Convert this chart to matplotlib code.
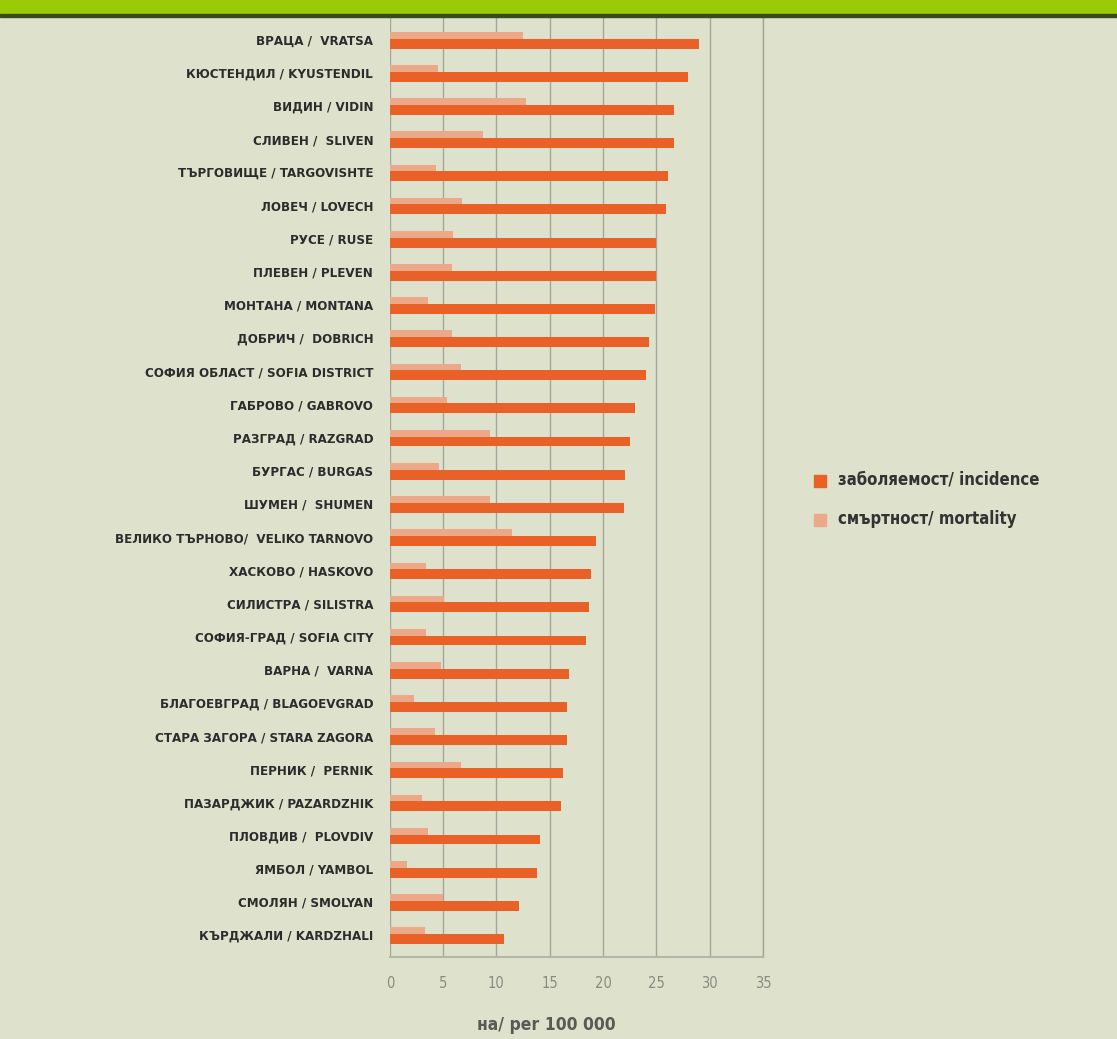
import matplotlib.pyplot as plt
import numpy as np

## Data ##
regions = ["ВРАЦА /  VRATSA", "КЮСТЕНДИЛ / KYUSTENDIL", "ВИДИН / VIDIN", "СЛИВЕН /  SLIVEN",
           "ТЪРГОВИЩЕ / TARGOVISHTE", "ЛОВЕЧ / LOVECH", "РУСЕ / RUSE", "ПЛЕВЕН / PLEVEN",
           "МОНТАНА / MONTANA", "ДОБРИЧ /  DOBRICH", "СОФИЯ ОБЛАСТ / SOFIA DISTRICT",
           "ГАБРОВО / GABROVO", "РАЗГРАД / RAZGRAD", "БУРГАС / BURGAS", "ШУМЕН /  SHUMEN",
           "ВЕЛИКО ТЪРНОВО/  VELIKO TARNOVO", "ХАСКОВО / HASKOVO", "СИЛИСТРА / SILISTRA",
           "СОФИЯ-ГРАД / SOFIA CITY", "ВАРНА /  VARNA", "БЛАГОЕВГРАД / BLAGOEVGRAD",
           "СТАРА ЗАГОРА / STARA ZAGORA", "ПЕРНИК /  PERNIK", "ПАЗАРДЖИК / PAZARDZHIK",
           "ПЛОВДИВ /  PLOVDIV", "ЯМБОЛ / YAMBOL", "СМОЛЯН / SMOLYAN", "КЪРДЖАЛИ / KARDZHALI"]
incidence = [29.0, 28.0, 26.7, 26.7, 26.1, 25.9, 25.0, 25.0, 24.9, 24.3, 24.0, 23.0, 22.5, 22.1,
             22.0, 19.3, 18.9, 18.7, 18.4, 16.8, 16.6, 16.6, 16.2, 16.1, 14.1, 13.8, 12.1, 10.7]
mortality = [12.5, 4.5, 12.8, 8.7, 4.3, 6.8, 5.9, 5.8, 3.6, 5.8, 6.7, 5.4, 9.4, 4.6,
             9.4, 11.5, 3.4, 5.1, 3.4, 4.8, 2.3, 4.2, 6.7, 3.0, 3.6, 1.6, 5.0, 3.3]
xticks = [0, 5, 10, 15, 20, 25, 30, 35]

bg = "#dee2cc"
inc_col = "#ea6128"
mort_col = "#eca98a"
grid_col = "#a3a59a"
narrow = dict(family="DejaVu Sans", stretch="condensed")

fig = plt.figure(figsize=(11.17, 10.39), dpi=100, facecolor=bg)
ax = fig.add_axes([0.349, 0.079, 0.334, 0.904])
ax.set_facecolor(bg)

## green band at the top
fig.patches.append(plt.Rectangle((0, 1 - 14/1039), 1, 14/1039, transform=fig.transFigure,
                                 color="#9bcb05", zorder=0))
fig.patches.append(plt.Rectangle((0, 1 - 17/1039), 1, 3/1039, transform=fig.transFigure,
                                 color="#3b4a1c", zorder=0))

y = np.arange(len(regions))
ax.barh(y - 0.12, mortality, height=0.22, color=mort_col, zorder=2)
ax.barh(y + 0.12, incidence, height=0.30, color=inc_col, zorder=3)

ax.set_xlim(0, 35)
ax.set_ylim(len(regions) - 0.34, -0.66)
ax.set_xticks(xticks)
ax.set_xticklabels([str(t) for t in xticks], color="#8a8a80", fontsize=10.5, **narrow)
ax.set_yticks(y)
ax.set_yticklabels(regions, fontsize=9.5, fontweight="bold", color="#2c2c2c", **narrow)
ax.tick_params(axis="both", length=0)
ax.tick_params(axis="y", pad=12)
ax.tick_params(axis="x", pad=14)

ax.grid(axis="x", color=grid_col, linewidth=1.0, zorder=1)
for s in ["top", "left"]:
    ax.spines[s].set_visible(False)
ax.spines["right"].set_color(grid_col)
ax.spines["right"].set_linewidth(1.0)
ax.spines["bottom"].set_color("#b5b7aa")
ax.spines["bottom"].set_linewidth(1.5)

fig.text(546/1117, 1 - 1025/1039, "на/ per 100 000", ha="center", va="center",
         fontsize=12.5, fontweight="bold", color="#5a5a55", **narrow)

## legend
fig.patches.append(plt.Rectangle((814/1117, 1 - 487/1039), 12/1117, 12/1039,
                                 transform=fig.transFigure, color=inc_col))
fig.patches.append(plt.Rectangle((814/1117, 1 - 526/1039), 12/1117, 12/1039,
                                 transform=fig.transFigure, color=mort_col))
fig.text(838/1117, 1 - 480/1039, "заболяемост/ incidence", va="center", fontsize=12,
         fontweight="bold", color="#333333", **narrow)
fig.text(838/1117, 1 - 519/1039, "смъртност/ mortality", va="center", fontsize=12,
         fontweight="bold", color="#333333", **narrow)

fig.savefig("out.png", dpi=100, facecolor=bg)
